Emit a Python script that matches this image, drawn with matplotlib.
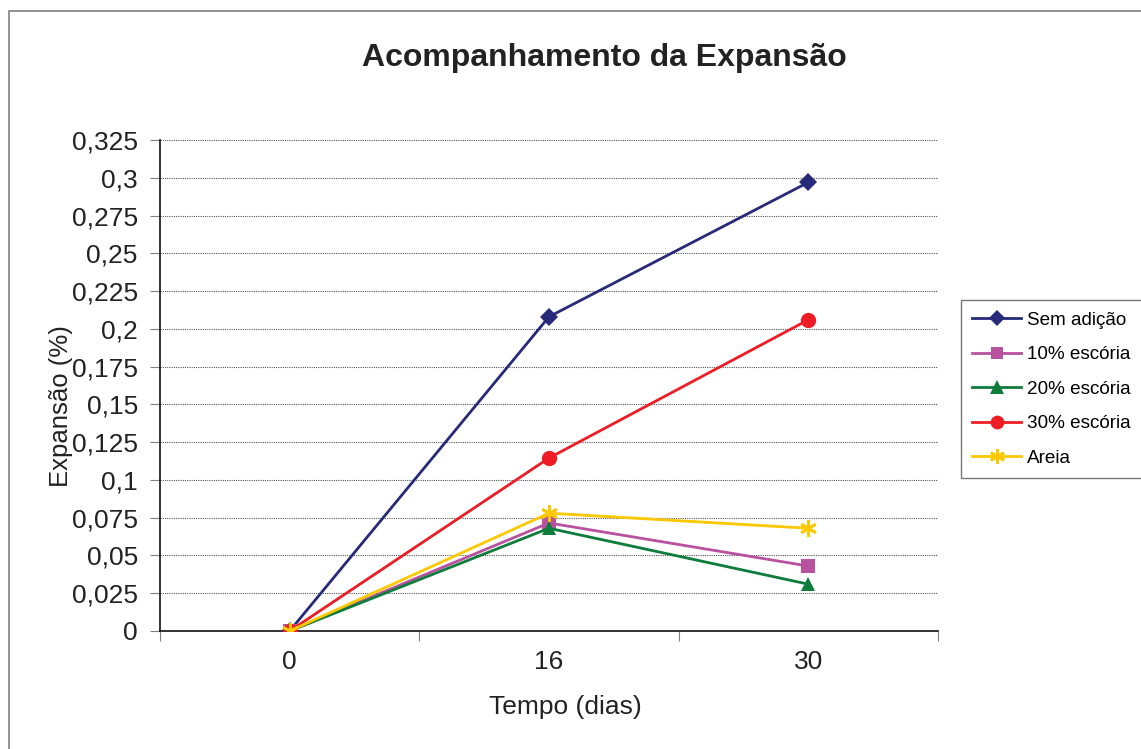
import matplotlib
matplotlib.use("Agg")
import matplotlib.pyplot as plt
from matplotlib.patches import Rectangle

plt.rcParams["font.family"] = ["Liberation Sans", "DejaVu Sans"]

# expansion readings (%) per mix, at each age
tempo = ["0", "16", "30"]
sem_adicao = [0.0, 0.208, 0.297]
escoria_10 = [0.0, 0.0715, 0.043]
escoria_20 = [0.0, 0.068, 0.031]
escoria_30 = [0.0, 0.1145, 0.206]
areia = [0.0, 0.078, 0.068]

y_ticks = [0, 0.025, 0.05, 0.075, 0.1, 0.125, 0.15, 0.175, 0.2, 0.225,
           0.25, 0.275, 0.3, 0.325]
y_labels = ["0", "0,025", "0,05", "0,075", "0,1", "0,125", "0,15", "0,175",
            "0,2", "0,225", "0,25", "0,275", "0,3", "0,325"]

# asterisk marker: six arms
asterisk = (6, 2, 0)
series = [
    ("Sem adição", sem_adicao, "#262a78", "D", 9.5),
    ("10% escória", escoria_10, "#b8519f", "s", 9.5),
    ("20% escória", escoria_20, "#0e7c3b", "^", 10.5),
    ("30% escória", escoria_30, "#ee1c25", "o", 11),
    ("Areia", areia, "#fcc800", asterisk, 12),
]

fig = plt.figure(figsize=(11.41, 7.49), dpi=100)
fig.patches.append(Rectangle((9 / 1141, -0.05), 1.2, 1 - 11 / 749 + 0.05,
                             transform=fig.transFigure, fill=False,
                             edgecolor="#808080", linewidth=1.2))

ax = fig.add_axes([160 / 1141, 1 - 631 / 749, 778 / 1141, 491 / 749])
x = list(range(len(tempo)))
for name, vals, color, marker, ms in series:
    mew = 2.0 if marker == asterisk else 0
    ax.plot(x, vals, color=color, linewidth=2.0, marker=marker,
            markersize=ms, markeredgewidth=mew, label=name, zorder=3)

ax.set_xlim(-0.5, 2.5)
ax.set_ylim(0, 0.325)
ax.set_yticks(y_ticks)
ax.set_yticklabels(y_labels, fontsize=19, color="#222222")
# category boundaries get the tick marks, centres get the labels
ax.set_xticks([-0.5, 0.5, 1.5, 2.5])
ax.set_xticklabels([])
ax.set_xticks(x, minor=True)
ax.set_xticklabels(tempo, minor=True, fontsize=19, color="#222222")
ax.tick_params(axis="x", which="minor", length=0, pad=14)
ax.tick_params(axis="x", which="major", length=7, color="#808080", direction="out")
ax.tick_params(axis="y", length=7, color="#808080", direction="out", pad=9)

ax.grid(axis="y", color="#555555", linestyle=(0, (1, 1)), linewidth=0.8)
ax.set_axisbelow(True)
for s in ("top", "right"):
    ax.spines[s].set_visible(False)
for s in ("left", "bottom"):
    ax.spines[s].set_color("#111111")
    ax.spines[s].set_linewidth(1.2)

ax.set_xlabel("Tempo (dias)", fontsize=19, color="#222222", va="center")
ax.xaxis.set_label_coords((565 - 160) / 778, -76 / 491)
ax.set_ylabel("Expansão (%)", fontsize=18.5, color="#222222", va="center")
ax.yaxis.set_label_coords((61 - 160) / 778, (631 - 406) / 491)
fig.text(604 / 1141, 1 - 58 / 749, "Acompanhamento da Expansão",
         fontsize=23, fontweight="bold", ha="center", va="center", color="#222222")

handles, labels = ax.get_legend_handles_labels()
leg = fig.legend(handles, labels, loc="upper left",
                 bbox_to_anchor=(961 / 1141, 1 - 300 / 749), fontsize=13.6,
                 frameon=True, fancybox=False, handlelength=2.6,
                 labelspacing=0.92, borderpad=0.6, borderaxespad=0,
                 handletextpad=0.3, markerscale=0.9)
leg.get_frame().set_edgecolor("#555555")
leg.get_frame().set_linewidth(1.0)

fig.savefig("out.png", dpi=100)
